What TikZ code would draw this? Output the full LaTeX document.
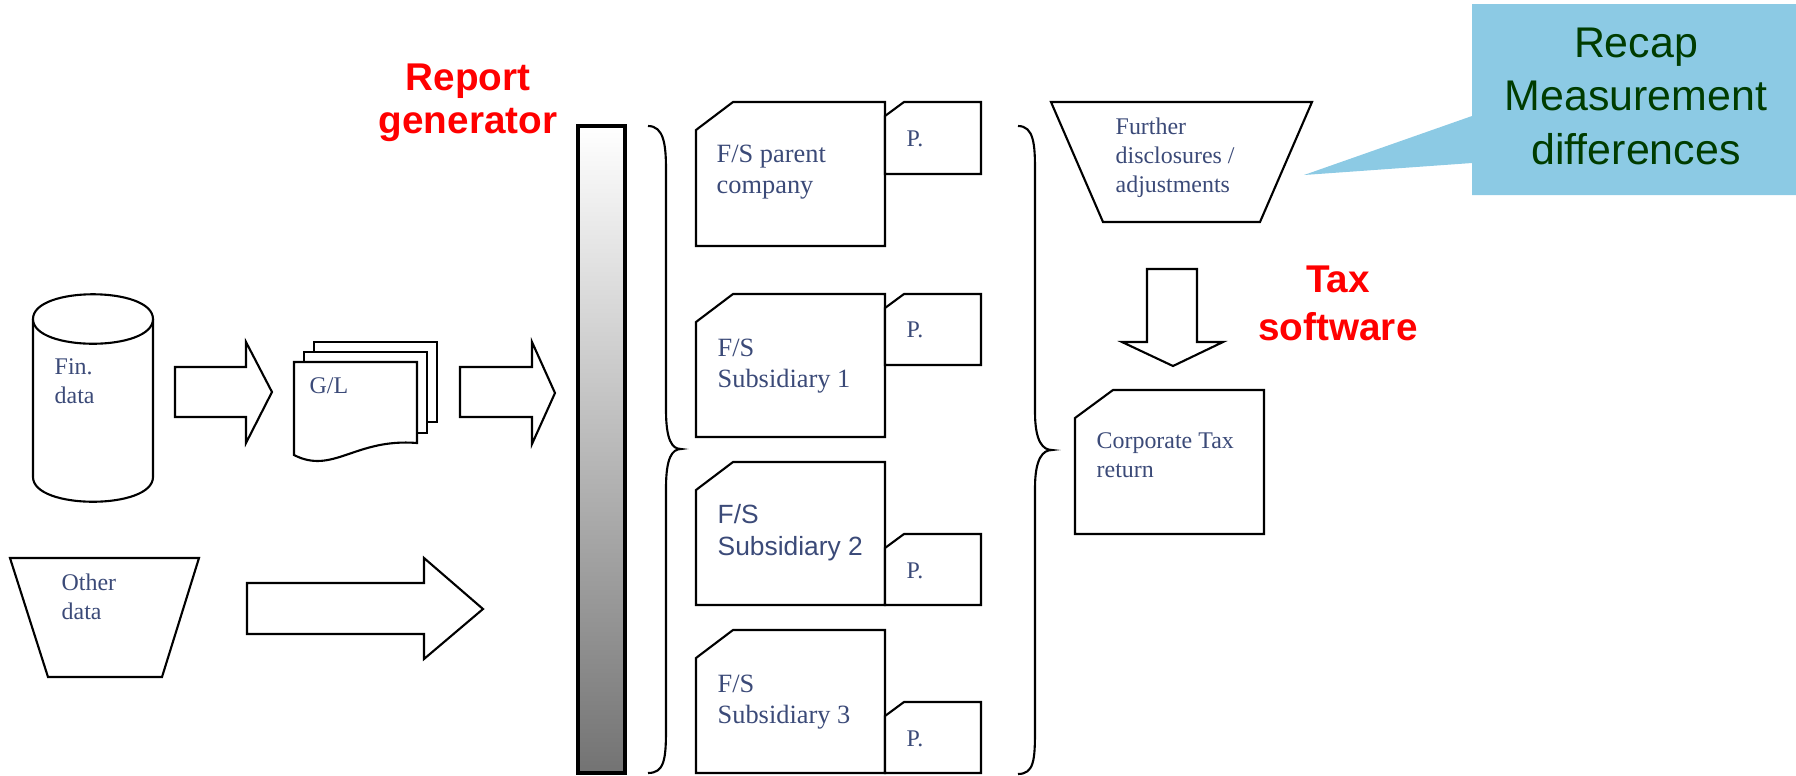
\documentclass[tikz,border=0pt]{standalone}
\usepackage{fontspec}
\setmainfont{Liberation Serif}
\setsansfont{Liberation Sans}

\definecolor{txtblue}{RGB}{59,74,120}
\definecolor{tipblue}{RGB}{140,202,228}
\definecolor{tipgreen}{RGB}{0,60,0}

\begin{document}
\begin{tikzpicture}[x=0.01cm, y=-0.01cm,
  shp/.style={draw, line width=0.6pt, fill=white},
  brc/.style={draw, line width=0.6pt},
  lbl/.style={anchor=base west, inner sep=0pt, align=left, text=txtblue,
    font=\fontsize{6.8}{8.2}\selectfont},
  fs/.style={lbl, font=\fontsize{7.5}{8.8}\selectfont},
  head/.style={anchor=base, inner sep=0pt, align=center, text=red,
    font=\sffamily\bfseries\fontsize{11}{12.2}\selectfont}]
  \useasboundingbox (0,0) rectangle (1796,775);

  % input data (labels placed at the baseline of their last line)
  \draw[shp] (33,319) -- (33,477) .. controls (33,510) and (153,510) .. (153,477) -- (153,319);
  \draw[shp] (33,319) .. controls (33,286) and (153,286) .. (153,319)
    .. controls (153,352) and (33,352) .. (33,319);
  \node[lbl] (fin) at (54,403) {Fin.\\data};
  \draw[shp] (10,558) -- (199,558) -- (162,677) -- (48,677) -- cycle;
  \node[lbl] (other) at (61,619) {Other\\data};

  % block arrows
  \draw[shp] (175,367) -- (246,367) -- (246,342) -- (272,392) -- (246,443) -- (246,417) -- (175,417) -- cycle;
  \draw[shp] (460,367) -- (532,367) -- (532,342) -- (555,393) -- (532,444) -- (532,417) -- (460,417) -- cycle;
  \draw[shp] (247,583) -- (424,583) -- (424,558) -- (483,609) -- (424,659) -- (424,634) -- (247,634) -- cycle;

  % general ledger
  \draw[shp] (314,342) rectangle (437,422);
  \draw[shp] (304,352) rectangle (427,433);
  \draw[shp] (294,362) -- (417,362) -- (417,443) .. controls (355,438) and (333,475) .. (294,455) -- cycle;
  \node[lbl] (gl) at (309,393) {G/L};

  % report generator
  \draw[line width=1.15pt, top color=white, bottom color=black!55] (578,126) rectangle (625,773);
  \node[head] (repgen) at (468,133) {Report\\generator};
  \draw[brc] (648,126) .. controls (664,126) and (666,145) .. (666,170) -- (666,410)
    .. controls (666,440) and (672,449) .. (681,449)
    .. controls (672,449) and (666,458) .. (666,488) -- (666,730)
    .. controls (666,760) and (664,773) .. (648,773);

  % financial statements
  \foreach \t/\b/\pt/\pb in {102/246/102/174, 294/437/294/365, 462/605/534/605, 630/773/702/773} {
    \draw[shp] (696,\t+28) -- (733,\t) -- (885,\t) -- (885,\b) -- (696,\b) -- cycle;
    \draw[shp] (885,\pt+14) -- (904,\pt) -- (981,\pt) -- (981,\pb) -- (885,\pb) -- cycle;
  }
  \node[fs] (parent) at (716,193) {F/S parent\\company};
  \node[fs] (sub1) at (717,387) {F/S\\Subsidiary 1};
  \node[fs, font=\sffamily\fontsize{7.5}{9.1}\selectfont] (sub2) at (717,555) {F/S\\Subsidiary 2};
  \node[fs] (sub3) at (717,723) {F/S\\Subsidiary 3};
  \node[lbl] (p1) at (906,146) {P.};
  \node[lbl] (p2) at (906,337) {P.};
  \node[lbl] (p3) at (906,578) {P.};
  \node[lbl] (p4) at (906,746) {P.};
  \draw[brc] (1018,126) .. controls (1034,126) and (1035,145) .. (1035,170) -- (1035,412)
    .. controls (1035,442) and (1043,450) .. (1052,450)
    .. controls (1043,450) and (1035,458) .. (1035,488) -- (1035,730)
    .. controls (1035,760) and (1034,774) .. (1018,774);

  % tax software
  \draw[shp] (1051,102) -- (1312,102) -- (1260,222) -- (1103,222) -- cycle;
  \node[lbl] (further) at (1115,192) {Further\\disclosures /\\adjustments};
  \draw[shp] (1147,269) -- (1197,269) -- (1197,342) -- (1223,342) -- (1173,366) -- (1122,342) -- (1147,342) -- cycle;
  \node[head, font=\sffamily\bfseries\fontsize{11}{13.4}\selectfont] (taxsw) at (1338,340) {Tax\\software};
  \draw[shp] (1075,418) -- (1113,390) -- (1264,390) -- (1264,534) -- (1075,534) -- cycle;
  \node[lbl] (ctr) at (1096,477) {Corporate Tax\\return};

  % callout
  \fill[tipblue] (1472,4) -- (1796,4) -- (1796,195) -- (1472,195) -- (1472,163) -- (1304,175) -- (1472,116) -- cycle;
  \node[anchor=base, inner sep=0pt, align=center, text=tipgreen,
    font=\sffamily\fontsize{12.2}{15.2}\selectfont] (recap) at (1636,164) {Recap\\Measurement\\differences};
\end{tikzpicture}
\end{document}
